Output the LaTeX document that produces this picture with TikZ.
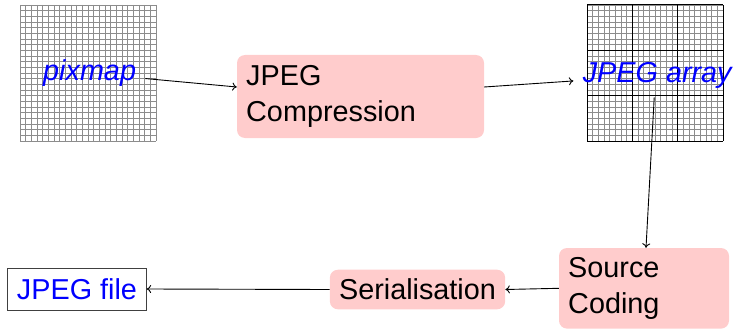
\documentclass[tikz,border=0pt]{standalone}
\usepackage{fontspec}
\setmainfont{Liberation Sans}
\usetikzlibrary{arrows.meta,calc}
\begin{document}
\begin{tikzpicture}[x=1pt,y=-1pt,
  every node/.style={font=\fontsize{28.8}{36}\selectfont, inner sep=9.2pt},
  stage/.style={fill=red!20, rounded corners=8pt, align=left},
  datalabel/.style={text=blue, font=\fontsize{28.8}{36}\selectfont\itshape},
  flow/.style={-{To[length=4.5pt,width=8pt]}, line width=0.9pt},
  fine/.style={draw=black!45, line width=0.5pt},
  blockline/.style={draw=black, line width=1pt}]
\useasboundingbox (0,0) rectangle (733,329);

% raw pixel grid (24 x 24)
\foreach \i in {0,...,24} {
  \draw[fine] ({20+\i*136/24},5) -- ({20+\i*136/24},141);
  \draw[fine] (20,{5+\i*136/24}) -- (156,{5+\i*136/24});
}
% coefficient grid (24 x 24, split into 8 x 8 blocks)
\foreach \i in {0,...,24} {
  \draw[fine] ({587+\i*136/24},5) -- ({587+\i*136/24},141);
  \draw[fine] (587,{5+\i*136/24}) -- (723,{5+\i*136/24});
}
\foreach \i in {0,...,3} {
  \draw[blockline] ({587+\i*136/3},5) -- ({587+\i*136/3},141);
  \draw[blockline] (587,{5+\i*136/3}) -- (723,{5+\i*136/3});
}

% data labels
\node[datalabel, anchor=base west] (pix) at (33.8,81) {pixmap};
\node[datalabel, anchor=base west] (arr) at (573.4,82) {JPEG array};

% processing stages
\node[stage, minimum width=247pt, minimum height=83pt, text width=228.6pt]
  (comp) at (360.5,96.5) {JPEG\\Compression};
\node[stage, minimum width=170pt, minimum height=80.6pt, text width=151.6pt]
  (src) at (644,288.3) {Source\\Coding};
\node[stage] (ser) at (417.5,289.5) {Serialisation};
\node[draw=black!75, line width=0.8pt, fill=white, text=blue, minimum height=42pt]
  (file) at (77,289) {JPEG file};

% data flow
\draw[flow] ($(pix.east)+(0,5)$) -- ($(comp.west)+(0,-9.5)$);
\draw[flow] ($(comp.east)+(0,-9.5)$) -- ($(arr.west)+(0,6)$);
\draw[flow] ($(arr.south)+(-3,0)$) -- ($(src.north)+(2,0)$);
\draw[flow] (src.west) -- (ser.east);
\draw[flow] (ser.west) -- (file.east);
\end{tikzpicture}
\end{document}
